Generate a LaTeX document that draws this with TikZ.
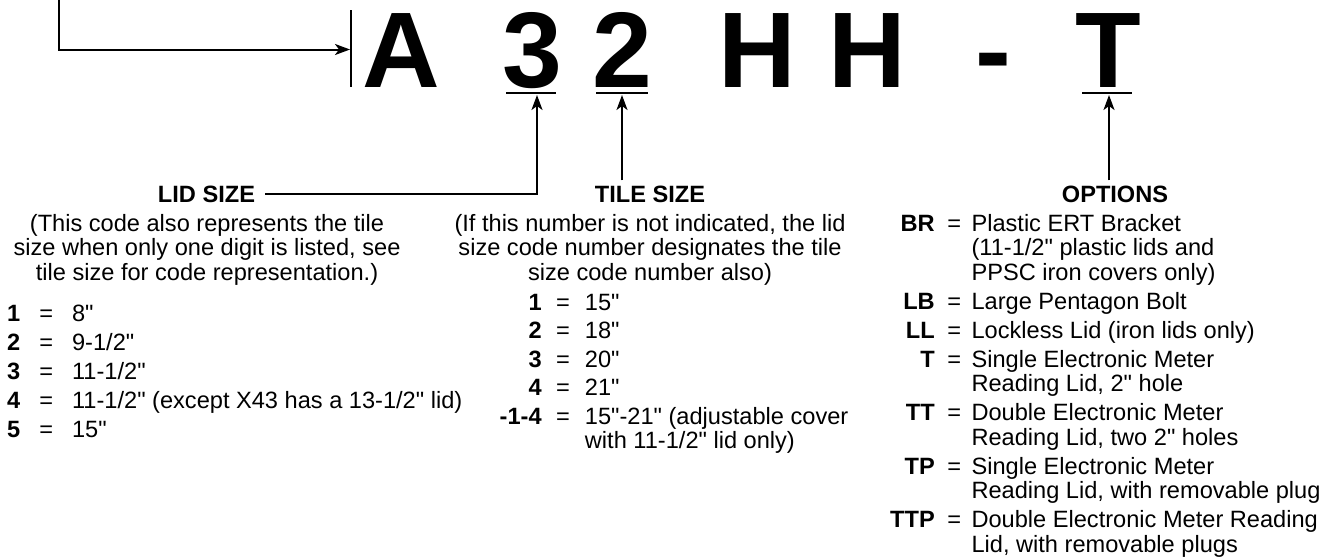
\documentclass[tikz,border=0pt]{standalone}
\usepackage{fontspec}
\setmainfont{Liberation Sans}[Ligatures=TeXOff]
\usetikzlibrary{arrows.meta}

\newcommand{\bodysize}{\fontsize{23.6}{24.5}\selectfont}

\begin{document}
\begin{tikzpicture}[x=1pt, y=-1pt,
    every node/.style={inner sep=0pt, font=\bodysize},
    code/.style={font=\fontsize{107.5}{110}\selectfont\bfseries, anchor=base},
    head/.style={font=\bodysize\bfseries, anchor=base},
    arr/.style={line width=2pt, -{Stealth[length=15pt, width=11pt, inset=4pt]}},
    uline/.style={line width=2.6pt}]
  \useasboundingbox (0,0) rectangle (1340,557);

  % the part number
  \node[code] (cA) at (401.5,87) {A};
  \node[code] (c3) at (532,87) {3};
  \node[code] (c2) at (622.5,87) {2};
  \node[code] (cH1) at (757,87) {H};
  \node[code] (cH2) at (867,87) {H};
  \node[code] (cdash) at (993,87) {-};
  \node[code] (cT) at (1108.5,87) {T};

  \draw[line width=1.6pt] (351,10) -- (351,87);
  \draw[uline] (506,93) -- (556,93);
  \draw[uline] (596,93) -- (648,93);
  \draw[uline] (1082,93) -- (1132,93);

  \coordinate (entry) at (59,0);
  \coordinate (barin) at (350,49.5);
  \coordinate (lidtip) at (537,95);
  \coordinate (tiletip) at (622,95);
  \coordinate (opttip) at (1109,95);

  % headings
  \node[head] (lidhead) at (206.5,202) {LID SIZE};
  \node[head] (tilehead) at (650,202) {TILE SIZE};
  \node[head] (opthead) at (1115,202) {OPTIONS};

  \draw[arr] (entry) |- (barin);
  \draw[arr] ([xshift=10pt]lidhead.east) -| (lidtip);
  \draw[arr] ([yshift=5pt]tilehead.north -| tiletip) -- (tiletip);
  \draw[arr] ([yshift=5pt]opthead.north -| opttip) -- (opttip);

  % lid size
  \node[anchor=north] (liddesc) at (207,214) {\begin{tabular}{@{}c@{}}
    (This code also represents the tile\\
    size when only one digit is listed, see\\
    tile size for code representation.)\end{tabular}};
  \node[anchor=north west] (lidlist) at (7,304) {\begin{tabular}{@{}r@{\hspace{19pt}}c@{\hspace{19pt}}l@{}}
    \textbf{1} & = & 8"\\[4.5pt]
    \textbf{2} & = & 9-1/2"\\[4.5pt]
    \textbf{3} & = & 11-1/2"\\[4.5pt]
    \textbf{4} & = & 11-1/2" (except X43 has a 13-1/2" lid)\\[4.5pt]
    \textbf{5} & = & 15"\end{tabular}};

  % tile size
  \node[anchor=north] (tiledesc) at (650,214) {\begin{tabular}{@{}c@{}}
    (If this number is not indicated, the lid\\
    size code number designates the tile\\
    size code number also)\end{tabular}};
  \node[anchor=north west] (tilelist) at (499.5,293) {\begin{tabular}{@{}r@{\hspace{14.5pt}}c@{\hspace{15pt}}l@{}}
    \textbf{1} & = & 15"\\[4pt]
    \textbf{2} & = & 18"\\[4pt]
    \textbf{3} & = & 20"\\[4pt]
    \textbf{4} & = & 21"\\[4pt]
    \textbf{-1-4} & = & 15"-21" (adjustable cover\\
     & & with 11-1/2" lid only)\end{tabular}};

  % options
  \node[anchor=north west] (optlist) at (890,214) {\begin{tabular}{@{}r@{\hspace{12.5pt}}c@{\hspace{10.5pt}}l@{}}
    \textbf{BR} & = & Plastic ERT Bracket\\
     & & (11-1/2" plastic lids and\\
     & & PPSC iron covers only)\\[4.5pt]
    \textbf{LB} & = & Large Pentagon Bolt\\[4.5pt]
    \textbf{LL} & = & Lockless Lid (iron lids only)\\[4.5pt]
    \textbf{T} & = & Single Electronic Meter\\
     & & Reading Lid, 2" hole\\[4.5pt]
    \textbf{TT} & = & Double Electronic Meter\\
     & & Reading Lid, two 2" holes\\[4.5pt]
    \textbf{TP} & = & Single Electronic Meter\\
     & & Reading Lid, with removable plug\\[4.5pt]
    \textbf{TTP} & = & Double Electronic Meter Reading\\
     & & Lid, with removable plugs\end{tabular}};
\end{tikzpicture}
\end{document}
